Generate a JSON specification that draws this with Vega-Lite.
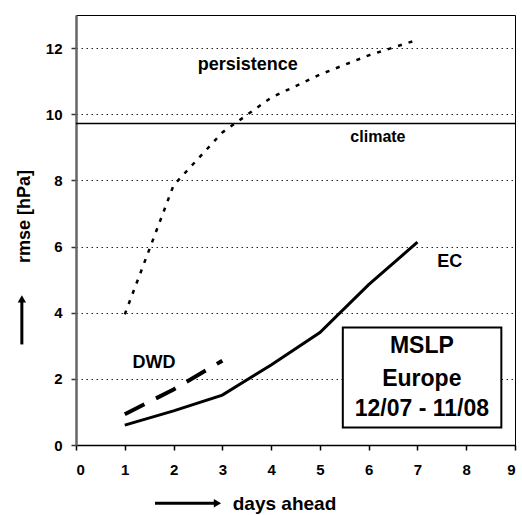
{
  "$schema": "https://vega.github.io/schema/vega-lite/v6.json",
  "width": 439,
  "height": 430,
  "autosize": {"type": "none"},
  "padding": {"left": 76, "top": 15, "right": 7, "bottom": 70},
  "background": "white",
  "config": {
    "view": {"stroke": "black", "strokeWidth": 1},
    "font": "Liberation Sans"
  },
  "datasets": {
    "series": [
      {"day": 1, "rmse": 3.95, "model": "persistence"},
      {"day": 2, "rmse": 7.85, "model": "persistence"},
      {"day": 3, "rmse": 9.45, "model": "persistence"},
      {"day": 4, "rmse": 10.5, "model": "persistence"},
      {"day": 5, "rmse": 11.2, "model": "persistence"},
      {"day": 6, "rmse": 11.78, "model": "persistence"},
      {"day": 7, "rmse": 12.25, "model": "persistence"},
      {"day": 1, "rmse": 0.6, "model": "EC"},
      {"day": 2, "rmse": 1.03, "model": "EC"},
      {"day": 3, "rmse": 1.51, "model": "EC"},
      {"day": 4, "rmse": 2.42, "model": "EC"},
      {"day": 5, "rmse": 3.4, "model": "EC"},
      {"day": 6, "rmse": 4.85, "model": "EC"},
      {"day": 7, "rmse": 6.13, "model": "EC"},
      {"day": 1, "rmse": 0.93, "model": "DWD"},
      {"day": 2, "rmse": 1.68, "model": "DWD"},
      {"day": 3, "rmse": 2.55, "model": "DWD"}
    ],
    "labels": [
      {"day": 3.52, "rmse": 11.5, "label": "persistence", "size": "l"},
      {"day": 6.19, "rmse": 9.3, "label": "climate", "size": "m"},
      {"day": 7.66, "rmse": 5.54, "label": "EC", "size": "l"},
      {"day": 1.6, "rmse": 2.47, "label": "DWD", "size": "l"}
    ],
    "boxtext": [
      {"day": 7.09, "rmse": 2.99, "label": "MSLP"},
      {"day": 7.09, "rmse": 2.0, "label": "Europe"},
      {"day": 7.09, "rmse": 1.08, "label": "12/07 - 11/08"}
    ],
    "arrows": [
      {"day": 1.62, "day2": 2.85, "rmse": -1.76, "rmse2": -1.76, "hx": 2.9, "hy": -1.76, "dir": "right"},
      {"day": -1.11, "day2": -1.11, "rmse": 3.04, "rmse2": 4.35, "hx": -1.11, "hy": 4.42, "dir": "up"}
    ]
  },
  "layer": [
    {
      "data": {"name": "series"},
      "transform": [{"filter": "datum.model === 'persistence'"}],
      "mark": {"type": "line", "color": "black", "strokeWidth": 2.5, "strokeDash": [4, 7]},
      "encoding": {
        "x": {"field": "day", "type": "quantitative", "scale": {"domain": [0, 9], "nice": false},
          "axis": {"values": [0,1,2,3,4,5,6,7,8,9], "grid": false, "labelOverlap": false, "labelFont": "Liberation Sans", "labelFontWeight": "bold", "labelColor": "black", "labelFontSize": 15, "labelPadding": 12, "domainColor": "black", "domainWidth": 1.5, "tickColor": "black", "tickWidth": 1.5, "tickSize": 5, "title": "days ahead", "titleFont": "Liberation Sans", "titleFontWeight": "bold", "titleColor": "black", "titleFontSize": 19, "titleX": 208, "titleY": 64, "titleBaseline": "alphabetic"}},
        "y": {"field": "rmse", "type": "quantitative", "scale": {"domain": [0, 13], "nice": false},
          "axis": {"values": [0,1,2,3,4,5,6,7,8,9,10,11,12,13], "grid": true, "gridColor": "#222", "gridDash": [1.5, 3.5], "gridWidth": 1, "labelOverlap": false, "labelFont": "Liberation Sans", "labelFontWeight": "bold", "labelColor": "black", "labelFontSize": 15, "labelPadding": 9, "domainColor": "#666", "domainWidth": 2.5, "tickColor": "#333", "tickWidth": 1.5, "tickSize": 5, "title": "rmse [hPa]", "titleFont": "Liberation Sans", "titleFontWeight": "bold", "titleColor": "black", "titleFontSize": 18, "titleX": -52, "titleY": 201, "titleBaseline": "middle", "titleAngle": -90}}
      }
    },
    {
      "data": {"name": "series"},
      "transform": [{"filter": "datum.model === 'EC'"}],
      "mark": {"type": "line", "color": "black", "strokeWidth": 3},
      "encoding": {
        "x": {"field": "day", "type": "quantitative"},
        "y": {"field": "rmse", "type": "quantitative"}
      }
    },
    {
      "data": {"name": "series"},
      "transform": [{"filter": "datum.model === 'DWD'"}],
      "mark": {"type": "line", "color": "black", "strokeWidth": 4, "strokeDash": [22, 13]},
      "encoding": {
        "x": {"field": "day", "type": "quantitative"},
        "y": {"field": "rmse", "type": "quantitative"}
      }
    },
    {
      "data": {"values": [{"rmse": 9.72}]},
      "mark": {"type": "rule", "color": "black", "strokeWidth": 1.5},
      "encoding": {"y": {"field": "rmse", "type": "quantitative"}}
    },
    {
      "data": {"values": [{"x1": 5.47, "x2": 8.72, "y1": 0.53, "y2": 3.55}]},
      "mark": {"type": "rect", "fill": "white", "stroke": "black", "strokeWidth": 2},
      "encoding": {
        "x": {"field": "x1", "type": "quantitative"},
        "x2": {"field": "x2"},
        "y": {"field": "y1", "type": "quantitative"},
        "y2": {"field": "y2"}
      }
    },
    {
      "data": {"name": "boxtext"},
      "mark": {"type": "text", "font": "Liberation Sans", "fontWeight": "bold", "fontSize": 23, "color": "black", "align": "center", "baseline": "middle"},
      "encoding": {
        "x": {"field": "day", "type": "quantitative"},
        "y": {"field": "rmse", "type": "quantitative"},
        "text": {"field": "label"}
      }
    },
    {
      "data": {"name": "labels"},
      "mark": {"type": "text", "font": "Liberation Sans", "fontWeight": "bold", "color": "black", "align": "center", "baseline": "middle"},
      "encoding": {
        "x": {"field": "day", "type": "quantitative"},
        "y": {"field": "rmse", "type": "quantitative"},
        "text": {"field": "label"},
        "size": {"field": "size", "type": "nominal", "scale": {"domain": ["l", "m"], "range": [18, 16]}, "legend": null}
      }
    },
    {
      "data": {"name": "arrows"},
      "mark": {"type": "rule", "color": "black", "strokeWidth": 3},
      "encoding": {
        "x": {"field": "day", "type": "quantitative"},
        "x2": {"field": "day2"},
        "y": {"field": "rmse", "type": "quantitative"},
        "y2": {"field": "rmse2"}
      }
    },
    {
      "data": {"name": "arrows"},
      "mark": {"type": "point", "filled": true, "color": "black", "opacity": 1, "size": 70},
      "encoding": {
        "x": {"field": "hx", "type": "quantitative"},
        "y": {"field": "hy", "type": "quantitative"},
        "shape": {"field": "dir", "type": "nominal", "scale": {"domain": ["right", "up"], "range": ["triangle-right", "triangle-up"]}, "legend": null}
      }
    }
  ]
}
